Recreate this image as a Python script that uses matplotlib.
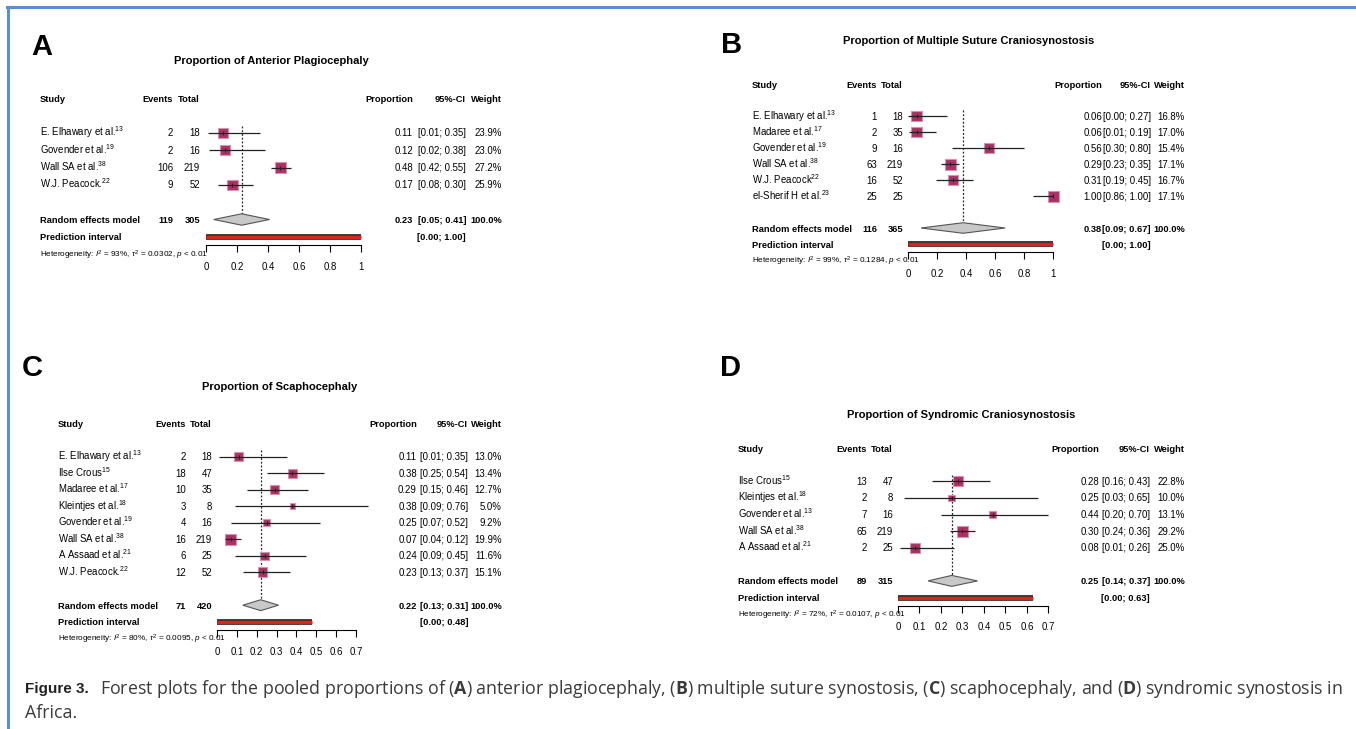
import numpy as np
import matplotlib
matplotlib.use('Agg')
import matplotlib.pyplot as plt
import matplotlib.transforms as mtransforms
from matplotlib.lines import Line2D
from matplotlib import font_manager

W, H = 1356, 729

installed = {f.name for f in font_manager.fontManager.ttflist}
NARROW = 'Liberation Sans Narrow' if 'Liberation Sans Narrow' in installed else 'Liberation Sans'
CAPFONT = 'Open Sans' if 'Open Sans' in installed else 'Liberation Sans'
plt.rcParams['font.family'] = NARROW
plt.rcParams['mathtext.fontset'] = 'custom'
plt.rcParams['mathtext.rm'] = NARROW
plt.rcParams['mathtext.it'] = NARROW + ':italic'
plt.rcParams['mathtext.bf'] = CAPFONT + ':bold'

# ---------------- data ----------------
# A: anterior plagiocephaly
A_study  = ['E. Elhawary et al.', 'Govender et al.', 'Wall SA et al.', 'W.J. Peacock.']
A_ref    = [13, 19, 38, 22]
A_events = [2, 2, 106, 9]
A_total  = [18, 16, 219, 52]
A_prop   = [0.11, 0.12, 0.48, 0.17]
A_lo     = [0.01, 0.02, 0.42, 0.08]
A_hi     = [0.35, 0.38, 0.55, 0.30]
A_weight = [23.9, 23.0, 27.2, 25.9]
A_pooled = [0.23, 0.05, 0.41]
A_sum    = [119, 305]
A_pred   = [0.00, 1.00]
A_het    = ['93%', '0.0302']

# B: multiple suture craniosynostosis
B_study  = ['E. Elhawary et al.', 'Madaree et al.', 'Govender et al.', 'Wall SA et al.',
            'W.J. Peacock', 'el-Sherif H et al.']
B_ref    = [13, 17, 19, 38, 22, 23]
B_events = [1, 2, 9, 63, 16, 25]
B_total  = [18, 35, 16, 219, 52, 25]
B_prop   = [0.06, 0.06, 0.56, 0.29, 0.31, 1.00]
B_lo     = [0.00, 0.01, 0.30, 0.23, 0.19, 0.86]
B_hi     = [0.27, 0.19, 0.80, 0.35, 0.45, 1.00]
B_weight = [16.8, 17.0, 15.4, 17.1, 16.7, 17.1]
B_pooled = [0.38, 0.09, 0.67]
B_sum    = [116, 365]
B_pred   = [0.00, 1.00]
B_het    = ['99%', '0.1284']

# C: scaphocephaly
C_study  = ['E. Elhawary et al.', 'Ilse Crous', 'Madaree et al.', 'Kleintjes et al.',
            'Govender et al.', 'Wall SA et al.', 'A Assaad et al.', 'W.J. Peacock.']
C_ref    = [13, 15, 17, 18, 19, 38, 21, 22]
C_events = [2, 18, 10, 3, 4, 16, 6, 12]
C_total  = [18, 47, 35, 8, 16, 219, 25, 52]
C_prop   = [0.11, 0.38, 0.29, 0.38, 0.25, 0.07, 0.24, 0.23]
C_lo     = [0.01, 0.25, 0.15, 0.09, 0.07, 0.04, 0.09, 0.13]
C_hi     = [0.35, 0.54, 0.46, 0.76, 0.52, 0.12, 0.45, 0.37]
C_weight = [13.0, 13.4, 12.7, 5.0, 9.2, 19.9, 11.6, 15.1]
C_pooled = [0.22, 0.13, 0.31]
C_sum    = [71, 420]
C_pred   = [0.00, 0.48]
C_het    = ['80%', '0.0095']

# D: syndromic craniosynostosis
D_study  = ['Ilse Crous', 'Kleintjes et al.', 'Govender et al.', 'Wall SA et al.', 'A Assaad et al.']
D_ref    = [15, 18, 13, 38, 21]
D_events = [13, 2, 7, 65, 2]
D_total  = [47, 8, 16, 219, 25]
D_prop   = [0.28, 0.25, 0.44, 0.30, 0.08]
D_lo     = [0.16, 0.03, 0.20, 0.24, 0.01]
D_hi     = [0.43, 0.65, 0.70, 0.36, 0.26]
D_weight = [22.8, 10.0, 13.1, 29.2, 25.0]
D_pooled = [0.25, 0.14, 0.37]
D_sum    = [89, 315]
D_pred   = [0.00, 0.63]
D_het    = ['72%', '0.0107']

ticks_1  = [0, 0.2, 0.4, 0.6, 0.8, 1]
ticks_07 = [0, 0.1, 0.2, 0.3, 0.4, 0.5, 0.6, 0.7]

SQ_FILL = '#AD2F63'
SQ_EDGE = '#D595B0'
FS = 6.9      # table text
FSB = 6.7     # bold table text

fig = plt.figure(figsize=(W/100, H/100), dpi=100)


def forest(letter, title, study, ref, events, total, prop, lo, hi, weight,
           pooled, nsum, pred, het, xticks, lay):
    # lay: px of x=0, px per unit, px of first row, row step, column x's, letter xy, title xy
    x0, sx, y0, dy, cols, let_xy, tit_xy = lay
    n = len(study)
    xmax = xticks[-1]
    top = y0 - 0.5*dy
    bot = y0 + (n + 2.5)*dy
    ax = fig.add_axes([x0/W, 1 - bot/H, sx*xmax/W, (bot - top)/H])
    ax.set_xlim(0, xmax)
    ax.set_ylim(n + 2.5, -0.5)
    ax.patch.set_alpha(0)
    for s in ['top', 'left', 'right']:
        ax.spines[s].set_visible(False)
    ax.spines['bottom'].set_linewidth(0.8)
    ax.set_yticks([])
    ax.set_xticks(xticks)
    ax.set_xticklabels([f'{t:g}' for t in xticks])
    ax.tick_params(axis='x', direction='out', length=5, width=0.8, pad=7, labelsize=FS)

    rows = np.arange(n)
    w = np.array(weight)
    side = 11*np.sqrt(w / w.max()) * 0.72
    ax.scatter(prop, rows, s=side**2, marker='s', c=SQ_FILL, edgecolors=SQ_EDGE,
               linewidths=0.8, zorder=3, clip_on=False)
    ax.hlines(rows, lo, hi, color='#222222', lw=0.9, zorder=4, clip_on=False)
    ax.scatter(prop, rows, s=10, marker='|', c='#222222', linewidths=0.7, zorder=5, clip_on=False)

    p, plo, phi = pooled
    ax.vlines(p, -0.4, n + 1 - 0.32, colors='#222222', lw=0.9, linestyles=(0, (1.5, 1.5)))
    ax.fill([plo, p, phi, p], [n + 1, n + 1 - 0.33, n + 1, n + 1 + 0.33],
            fc='#C8C8C8', ec='#555555', lw=0.8, zorder=3, clip_on=False)
    ax.plot(pred, [n + 2, n + 2], color='#333333', lw=4.2, solid_capstyle='butt', clip_on=False)
    ax.plot(pred, [n + 2, n + 2], color='#D8261C', lw=2.4, solid_capstyle='butt', clip_on=False)

    tr = mtransforms.blended_transform_factory(fig.transFigure, ax.transData)
    trb = mtransforms.offset_copy(tr, fig=fig, y=-3.5, units='dots')

    heads = ['Study', 'Events', 'Total', 'Proportion', '95%-CI', 'Weight']
    for k, h in enumerate(heads):
        ax.text(cols[k]/W, -2, h, transform=trb, ha='left' if k == 0 else 'right',
                va='baseline', fontsize=FSB, fontweight='bold')

    for i in range(n):
        vals = [f'{study[i]}$^{{{ref[i]}}}$', str(events[i]), str(total[i]),
                f'{prop[i]:.2f}', f'[{lo[i]:.2f}; {hi[i]:.2f}]', f'{weight[i]:.1f}%']
        for k, v in enumerate(vals):
            ax.text(cols[k]/W, i, v, transform=trb, ha='left' if k == 0 else 'right',
                    va='baseline', fontsize=FS)

    vals = ['Random effects model', str(nsum[0]), str(nsum[1]),
            f'{p:.2f}', f'[{plo:.2f}; {phi:.2f}]', '100.0%']
    for k, v in enumerate(vals):
        ax.text(cols[k]/W, n + 1, v, transform=trb, ha='left' if k == 0 else 'right',
                va='baseline', fontsize=FSB, fontweight='bold')
    ax.text(cols[0]/W, n + 2, 'Prediction interval', transform=trb, ha='left',
            va='baseline', fontsize=FSB, fontweight='bold')
    ax.text(cols[4]/W, n + 2, f'[{pred[0]:.2f}; {pred[1]:.2f}]', transform=trb, ha='right',
            va='baseline', fontsize=FSB, fontweight='bold')
    ax.text(cols[0]/W, n + 3, rf'Heterogeneity: $I^2$ = {het[0]}, $\tau^2$ = {het[1]}, $p$ < 0.01',
            transform=trb, ha='left', va='baseline', fontsize=5.9)

    fig.text(let_xy[0]/W, 1 - let_xy[1]/H, letter, ha='center', va='center',
             fontsize=21, fontweight='bold', family='Liberation Sans')
    fig.text(tit_xy[0]/W, 1 - tit_xy[1]/H, title, ha='center', va='center',
             fontsize=8, fontweight='bold')
    return ax


forest('A', 'Proportion of Anterior Plagiocephaly', A_study, A_ref, A_events, A_total,
       A_prop, A_lo, A_hi, A_weight, A_pooled, A_sum, A_pred, A_het, ticks_1,
       (206, 155, 133, 17.3, (40, 173, 200, 413, 466, 502), (42, 47), (271, 61)))
forest('B', 'Proportion of Multiple Suture Craniosynostosis', B_study, B_ref, B_events, B_total,
       B_prop, B_lo, B_hi, B_weight, B_pooled, B_sum, B_pred, B_het, ticks_1,
       (908, 145, 116, 16.0, (752, 877, 903, 1102, 1151, 1185), (732, 45), (969, 41)))
forest('C', 'Proportion of Scaphocephaly', C_study, C_ref, C_events, C_total,
       C_prop, C_lo, C_hi, C_weight, C_pooled, C_sum, C_pred, C_het, ticks_07,
       (217, 198.6, 456.7, 16.5, (58, 186, 212, 417, 468, 502), (32, 368), (280, 387)))
forest('D', 'Proportion of Syndromic Craniosynostosis', D_study, D_ref, D_events, D_total,
       D_prop, D_lo, D_hi, D_weight, D_pooled, D_sum, D_pred, D_het, ticks_07,
       (898, 214.8, 481.3, 16.6, (738, 867, 893, 1099, 1150, 1185), (730, 368), (961, 415)))

# caption
fig.text(25/W, 1 - 689/H, 'Figure 3.', ha='left', va='center', fontsize=11,
         fontweight='bold', family='Liberation Sans', color='#222222')
fig.text(100/W, 1 - 689/H,
         r'Forest plots for the pooled proportions of ($\mathbf{A}$) anterior plagiocephaly, '
         r'($\mathbf{B}$) multiple suture synostosis, ($\mathbf{C}$) scaphocephaly, and '
         r'($\mathbf{D}$) syndromic synostosis in',
         ha='left', va='center', fontsize=12.8, family=CAPFONT, color='#3a3a3a')
fig.text(25/W, 1 - 713/H, 'Africa.', ha='left', va='center', fontsize=12.8,
         family=CAPFONT, color='#3a3a3a')

# blue frame at top and left
fig.add_artist(Line2D([7/W, 1], [1 - 7/H, 1 - 7/H], color='#5B8FD3', lw=2.2))
fig.add_artist(Line2D([8/W, 8/W], [1 - 7/H, 0], color='#5B8FD3', lw=2.2))

fig.savefig('out.png', dpi=100)
